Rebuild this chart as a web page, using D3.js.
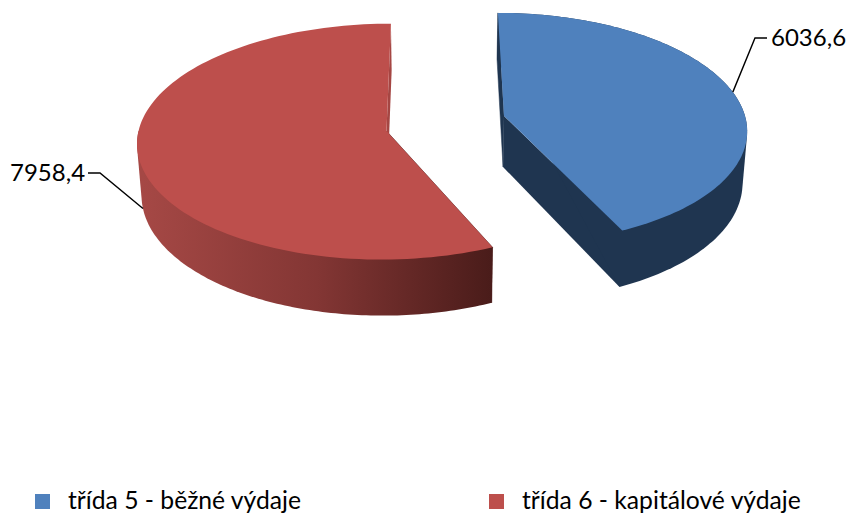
<!DOCTYPE html>
<html>
<head>
<meta charset="utf-8">
<script src="https://d3js.org/d3.v7.min.js"></script>
<style>
  html, body { margin: 0; padding: 0; background: #fff; }
  text { font-family: Lato, "Open Sans", sans-serif; fill: #000; }
</style>
</head>
<body>
<div id="chart"></div>
<script>
// data
var categories = ['třída 5 - běžné výdaje', 'třída 6 - kapitálové výdaje'];
var values = [6036.6, 7958.4];
var valueLabels = ['6036,6', '7958,4'];
var topColors = ['#4f81bd', '#bd4f4c'];

var width = 847, height = 514;

// the vanishing point of the fake 3d camera
var vanishX = 440, depth = 51;

// one geometry per slice, because excel explodes them apart
var geometry = [
  {cx: 504, cy: 116, rx: 241, ry: 114, p: 0.1055, rot: 0, trim: 0, wallTo: null, bottomScale: 0.985,
   leaderZ: 0, elbow: [[755, 38], [767, 38]], labelX: 771, labelY: 46},
  {cx: 386.5, cy: 131, rx: 248, ry: 117, p: 0.09, rot: 0, trim: 0.5, wallTo: 270, bottomScale: 0.985,
   leaderZ: 1, elbow: [[100, 173], [88, 173]], labelX: 10, labelY: 181}
];

var svg = d3.select('#chart')
  .append('svg')
  .attr('width', width)
  .attr('height', height);

// side of the red slice goes from lighter left to almost black right
var defs = svg.append('defs');
var grad = defs.append('linearGradient')
  .attr('id', 'redSide')
  .attr('gradientUnits', 'userSpaceOnUse')
  .attr('x1', 143).attr('x2', 491).attr('y1', 0).attr('y2', 0);
grad.append('stop').attr('offset', '0%').attr('stop-color', '#a54845');
grad.append('stop').attr('offset', '50%').attr('stop-color', '#833634');
grad.append('stop').attr('offset', '100%').attr('stop-color', '#4a1c1a');

var sideFills = ['#1f3550', 'url(#redSide)'];
var startFaceFills = ['#1f3550', '#4a1c1a'];
var endFaceFills = ['#1f3550', '#a54643'];

var pie = d3.pie().sort(null)(values);
var line = d3.line();

// point on the disc, r 0..1, a clockwise from 12 o'clock, z 0 top or 1 bottom
function project(g, a, r, z) {
  var u = Math.sin(a) * r, v = -Math.cos(a) * r;
  var s = 1 / (1 - g.p * v);
  var x = g.cx + g.rx * u * s + (g.cx - vanishX) * (s - 1);
  var y = g.cy + g.ry * v * s;
  if (z) {
    x = vanishX + (x - vanishX) * g.bottomScale;
    y = y + depth * s;
  }
  return [x, y];
}

function arcPoints(g, a0, a1, z) {
  var n = 120;
  return d3.range(n + 1).map(function(i) {
    return project(g, a0 + (a1 - a0) * i / n, 1, z);
  });
}

function drawSlice(i) {
  var d = pie[i], g = geometry[i];
  var rad = Math.PI / 180;
  var a0 = d.startAngle + g.rot * rad + g.trim * rad;
  var a1 = d.endAngle + g.rot * rad;
  var apex = project(g, 0, 0, 0), apexB = project(g, 0, 0, 1);
  var layer = svg.append('g').attr('class', 'slice');

  // the two cut faces
  layer.append('path')
    .attr('d', line([apex, project(g, a0, 1, 0), project(g, a0, 1, 1), apexB]) + 'Z')
    .attr('fill', startFaceFills[i])
    .attr('stroke', startFaceFills[i])
    .attr('stroke-width', 0.5);
  layer.append('path')
    .attr('d', line([apex, project(g, a1, 1, 0), project(g, a1, 1, 1), apexB]) + 'Z')
    .attr('fill', endFaceFills[i]);

  // outer wall, the hull closes the notch at the silhouette
  var wallEnd = g.wallTo === null ? a1 : g.wallTo * rad;
  var wall = d3.polygonHull(arcPoints(g, a0, wallEnd, 0).concat(arcPoints(g, a0, wallEnd, 1)));
  layer.append('path')
    .attr('d', line(wall) + 'Z')
    .attr('fill', sideFills[i]);

  // top face
  layer.append('path')
    .attr('d', line([apex].concat(arcPoints(g, a0, a1, 0))) + 'Z')
    .attr('fill', topColors[i]);
}

drawSlice(0);
drawSlice(1);

// leader lines and value labels
geometry.forEach(function(g, i) {
  var mid = (pie[i].startAngle + pie[i].endAngle) / 2;
  var pts = [project(g, mid, 1, g.leaderZ)].concat(g.elbow);
  svg.append('path')
    .attr('d', line(pts))
    .attr('fill', 'none')
    .attr('stroke', '#000')
    .attr('stroke-width', 1.4);
  svg.append('text')
    .attr('x', g.labelX)
    .attr('y', g.labelY)
    .attr('font-size', 24)
    .text(valueLabels[i]);
});

// legend
var legendX = d3.scaleOrdinal().domain(categories).range([35, 489]);
var legend = svg.selectAll('.legend')
  .data(categories)
  .enter().append('g')
  .attr('class', 'legend')
  .attr('transform', function(d) { return 'translate(' + legendX(d) + ',494)'; });
legend.append('rect')
  .attr('width', 15).attr('height', 15)
  .attr('fill', function(d, i) { return topColors[i]; });
legend.append('text')
  .attr('x', 33).attr('y', 15)
  .attr('font-size', 24.7)
  .text(function(d) { return d; });
</script>
</body>
</html>
